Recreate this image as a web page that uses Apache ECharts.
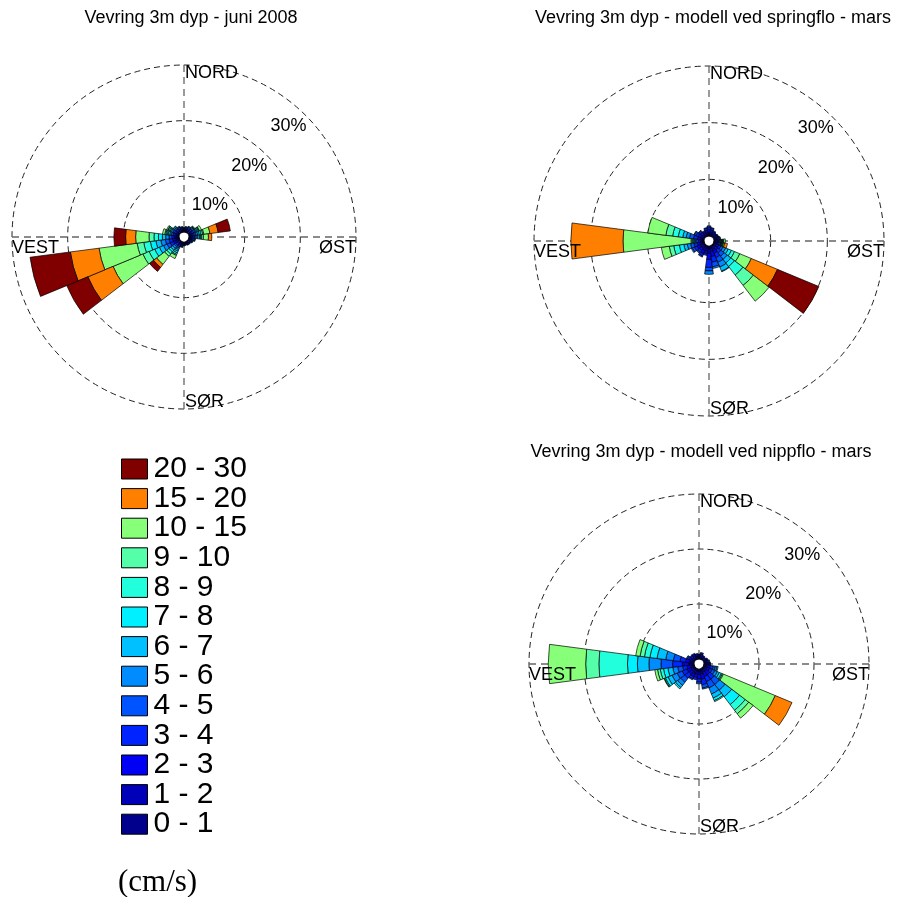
<!DOCTYPE html>
<html>
<head>
<meta charset="utf-8">
<script src="https://cdn.jsdelivr.net/npm/echarts@6/dist/echarts.min.js"></script>
<style>
html,body{margin:0;padding:0;background:#fff;}
#chart{width:901px;height:897px;}
</style>
</head>
<body>
<div id="chart"></div>
<script>
// ---------- DATA ----------
const directions = [0,15,30,45,60,75,90,105,120,135,150,165,180,195,210,225,240,255,270,285,300,315,330,345];
const speedClasses = ['0 - 1','1 - 2','2 - 3','3 - 4','4 - 5','5 - 6','6 - 7','7 - 8','8 - 9','9 - 10','10 - 15','15 - 20','20 - 30'];
const classColors = ['#00008C','#0000B8','#0000F5','#0024FF','#0054FF','#008CFF','#00C0FF','#00F0FF','#22FFDC','#55FFAA','#88FF78','#FF8000','#800000'];
const ringTicks = ['10%','20%','30%'];
const compassLabels = ['NORD','ØST','SØR','VEST'];
const titles = ['Vevring 3m dyp - juni 2008','Vevring 3m dyp - modell ved springflo - mars','Vevring 3m dyp - modell ved nippflo - mars'];
const unitLabel = '(cm/s)';

// percent per direction (rows follow `directions`), columns follow `speedClasses`
const juni2008 = [
  [0.2,0.2,0.2,0.1,0.1],
  [0.2,0.2,0.2,0.2,0.1,0.1],
  [0.2,0.2,0.2,0.2,0.2,0.1,0.1],
  [0.2,0.2,0.3,0.2,0.2,0.2,0.1,0.1,0.1],
  [0.2,0.2,0.3,0.3,0.3,0.2,0.2,0.2,0.1,0.1,0.4],
  [0.2,0.2,0.3,0.3,0.3,0.3,0.3,0.3,0.3,0.2,1.1,1.5,2.2],
  [0.2,0.2,0.3,0.3,0.3,0.3,0.3,0.2,0.2,0.3,0.9,0.6],
  [0.2,0.2,0.2,0.2,0.2,0.1,0.1],
  [0.2,0.2,0.2,0.1,0.1,0.1],
  [0.2,0.2,0.1,0.1,0.1],
  [0.2,0.2,0.1,0.1,0.1],
  [0.2,0.1,0.1,0.1,0.1],
  [0.2,0.2,0.1,0.1,0.1],
  [0.2,0.2,0.2,0.2,0.1,0.1],
  [0.2,0.2,0.3,0.3,0.3,0.3,0.3,0.3,0.3,0.2,0.6],
  [0.2,0.2,0.3,0.3,0.3,0.4,0.4,0.4,0.5,0.5,1.8,0.7,0.9],
  [0.3,0.4,0.5,0.6,0.6,0.7,0.8,0.9,1.1,1.2,5.8,4.9,4.1],
  [0.3,0.4,0.5,0.6,0.7,0.8,0.9,1.0,1.2,1.2,6.9,5.2,7.3],
  [0.2,0.3,0.4,0.4,0.5,0.6,0.6,0.7,0.8,0.9,2.4,1.8,2.1],
  [0.2,0.3,0.3,0.3,0.3,0.3,0.3,0.2,0.2,0.2,0.4],
  [0.2,0.2,0.3,0.3,0.3,0.3,0.2,0.2,0.2,0.1,0.2],
  [0.2,0.2,0.2,0.3,0.2,0.2,0.2,0.1],
  [0.2,0.2,0.2,0.2,0.2,0.1,0.1],
  [0.2,0.2,0.2,0.2,0.1,0.1]
];
const springflo = [
  [0.3,0.4,0.5,0.4,0.2],
  [0.3,0.4,0.4,0.3,0.1],
  [0.3,0.3,0.3,0.2],
  [0.3,0.3,0.2,0.1],
  [0.3,0.3,0.2,0.1,0.1],
  [0.3,0.3,0.2,0.2,0.1,0.1],
  [0.3,0.3,0.2,0.2,0.2,0.1,0.1,0.1,0.1,0.1,0.3],
  [0.3,0.3,0.2,0.2,0.2,0.1,0.1,0.1,0.1,0.1,0.2,0.5],
  [0.3,0.3,0.4,0.4,0.4,0.5,0.5,0.6,0.6,1.0,2.2,5.0,7.9],
  [0.3,0.4,0.5,0.6,0.7,0.7,0.8,0.8,1.9,2.3,3.5],
  [0.3,0.5,0.7,0.8,0.9,0.9,0.8,0.1],
  [0.4,0.6,0.9,1.0,0.8,0.3],
  [0.5,0.8,1.1,1.4,0.6,0.6],
  [0.4,0.5,0.5,0.3],
  [0.4,0.6,0.6,0.4,0.2],
  [0.3,0.5,0.5,0.4,0.2],
  [0.3,0.5,0.6,0.5,0.4,0.2],
  [0.3,0.4,0.5,0.6,0.6,0.6,0.6,0.8,1.0,0.8,1.4],
  [0.2,0.2,0.3,0.3,0.3,0.2,0.2,0.2,0.2,0.2,12.0,9.2],
  [0.3,0.4,0.5,0.7,0.7,0.6,0.6,0.8,1.0,1.2,3.2],
  [0.3,0.4,0.5,0.4,0.3,0.1],
  [0.3,0.4,0.4,0.3,0.1],
  [0.3,0.3,0.3,0.2],
  [0.3,0.4,0.4,0.3,0.1]
];
const nippflo = [
  [0.3,0.3,0.2,0.1],
  [0.3,0.4,0.3,0.2],
  [0.3,0.3,0.2],
  [0.2,0.3,0.2],
  [0.3,0.3,0.2,0.1],
  [0.3,0.3,0.3,0.2],
  [0.3,0.3,0.3,0.2,0.1],
  [0.3,0.4,0.5,0.5,0.4,0.3,0.2],
  [0.3,0.4,0.5,0.5,0.5,0.5,0.4,0.4,0.2,0.2,10.2,3.3],
  [0.3,0.5,0.8,1.0,1.2,1.3,1.5,1.8,1.3,0.8,1.0],
  [0.3,0.5,0.8,1.0,1.2,1.2,0.8,0.5,0.2],
  [0.4,0.6,0.9,1.0,0.6,0.2],
  [0.4,0.6,0.8,0.6,0.3],
  [0.4,0.6,0.6,0.4],
  [0.4,0.6,0.6,0.4,0.2],
  [0.3,0.5,0.7,0.9,0.9,0.7,0.5,0.3],
  [0.3,0.5,0.7,0.9,1.0,1.0,0.8,0.5,0.2,0.1],
  [0.3,0.4,0.6,0.8,0.9,0.9,0.9,0.8,0.6,0.5,0.5],
  [0.3,0.6,1.2,1.8,2.1,2.2,2.1,1.8,5.2,2.4,6.8],
  [0.3,0.5,0.8,1.0,1.2,1.4,1.6,1.3,1.0,0.8,0.8],
  [0.3,0.4,0.4,0.3,0.2],
  [0.3,0.4,0.3,0.2],
  [0.3,0.4,0.3,0.2],
  [0.3,0.3,0.3,0.1]
];

// ---------- LAYOUT ----------
const FONT = '"Liberation Sans", Arial, sans-serif';
const roses = [
  {data: juni2008,  center: [184, 237], r0: 5, R: 172, title: titles[0], titleX: 191, titleY: 18},
  {data: springflo, center: [709, 241], r0: 5, R: 175, title: titles[1], titleX: 713, titleY: 18},
  {data: nippflo,   center: [699, 664], r0: 5, R: 170, title: titles[2], titleX: 701, titleY: 452}
];

const polar = [], angleAxis = [], radiusAxis = [], series = [], graphic = [];
roses.forEach((rs, i) => {
  polar.push({center: rs.center, radius: [rs.r0, rs.R]});
});
roses.forEach((rs, i) => {
  polar.push({center: rs.center, radius: [rs.r0, rs.R]});
});
roses.forEach((rs, i) => {
  angleAxis.push({
    polarIndex: i, type: 'category', data: directions.map(String),
    startAngle: 90 + 7.5, clockwise: true, boundaryGap: true,
    axisLine: {show: false}, axisTick: {show: false}, axisLabel: {show: false}, splitLine: {show: false}
  });
  radiusAxis.push({
    polarIndex: i, type: 'value', min: 0, max: 30,
    axisLine: {show: false}, axisTick: {show: false}, axisLabel: {show: false}, splitLine: {show: false}
  });
});
roses.forEach((rs, i) => {
  angleAxis.push({
    polarIndex: i + 3, type: 'value', min: 0, max: 360, interval: 90,
    startAngle: 90, clockwise: true,
    axisLine: {show: false}, axisTick: {show: false}, axisLabel: {show: false},
    splitLine: {show: true, lineStyle: {color: '#666', width: 1.3, type: [7, 5]}}
  });
  radiusAxis.push({
    polarIndex: i + 3, type: 'value', min: 0, max: 30, interval: 10,
    axisLine: {show: false}, axisTick: {show: false}, axisLabel: {show: false},
    splitLine: {show: true, lineStyle: {color: '#222', width: 1, type: [6, 4]}}
  });
});

const textEl = (x, y, text, font, align, vAlign) => ({
  type: 'text', x: x, y: y, z: 100, zlevel: 1, silent: true,
  style: {text: text, font: font, fill: '#000', textAlign: align, textVerticalAlign: vAlign}
});

roses.forEach((rs, i) => {
  speedClasses.forEach((name, k) => {
    series.push({
      name: name, type: 'bar', coordinateSystem: 'polar', polarIndex: i,
      stack: 'rose' + i, barCategoryGap: '0%',
      data: rs.data.map(row => { const v = row[k]; return (v === undefined || v === 0) ? '-' : v; }),
      itemStyle: {color: classColors[k], borderColor: '#000', borderWidth: 0.7},
      silent: true, animation: false
    });
  });

  const [cx, cy] = rs.center;
  const R = rs.R, r0 = rs.r0;
  const f18 = '18px ' + FONT;
  graphic.push(textEl(rs.titleX, rs.titleY, rs.title, f18, 'center', 'middle'));
  graphic.push(textEl(cx + 1, cy - R - 1, compassLabels[0], f18, 'left', 'top'));
  graphic.push(textEl(cx + R, cy + 2, compassLabels[1], f18, 'right', 'top'));
  graphic.push(textEl(cx + 1, cy + R + 2, compassLabels[2], f18, 'left', 'bottom'));
  graphic.push(textEl(cx - R, cy + 2, compassLabels[3], f18, 'left', 'top'));
  ringTicks.forEach((t, j) => {
    const rp = r0 + (R - r0) * (j + 1) / 3;
    graphic.push(textEl(cx + rp * Math.SQRT1_2 + 1, cy - rp * Math.SQRT1_2 + 2, t, f18, 'right', 'top'));
  });
});

graphic.push(textEl(118, 883, unitLabel, '31px "Liberation Serif", "Times New Roman", serif', 'left', 'middle'));

const option = {
  backgroundColor: '#fff',
  animation: false,
  polar, angleAxis, radiusAxis, series, graphic,
  legend: {
    orient: 'vertical', left: 116, top: 449,
    data: speedClasses.slice().reverse(),
    icon: 'rect', itemWidth: 26, itemHeight: 20, itemGap: -0.4,
    selectedMode: false,
    itemStyle: {borderColor: '#000', borderWidth: 1},
    textStyle: {fontSize: 30, fontFamily: FONT, color: '#000', lineHeight: 29, padding: [0, 0, 0, 1]}
  }
};

const chart = echarts.init(document.getElementById('chart'), null, {renderer: 'canvas'});
chart.setOption(option);
</script>
</body>
</html>
